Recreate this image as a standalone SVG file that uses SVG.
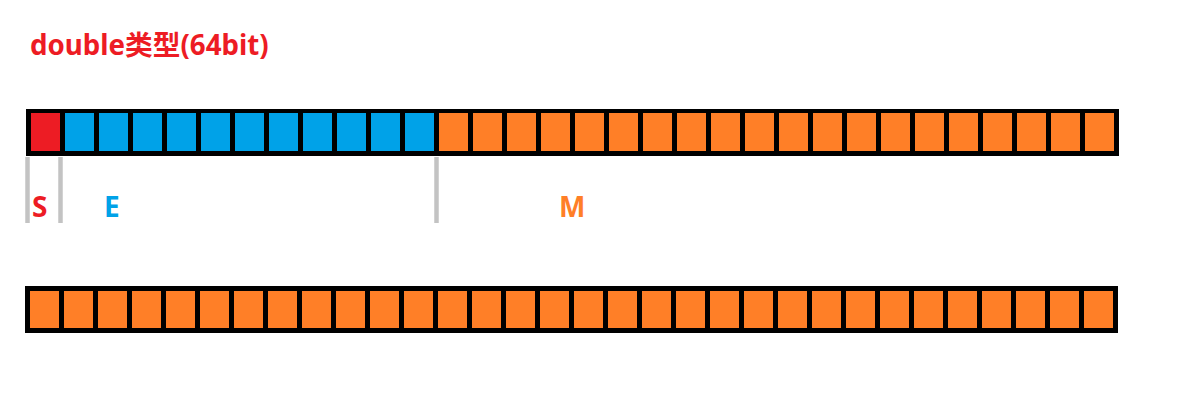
<svg xmlns="http://www.w3.org/2000/svg" xmlns:xlink="http://www.w3.org/1999/xlink" width="1185" height="402" viewBox="0 0 1185 402">
<style>
.bar{fill:#000}
.s{fill:#ED1C24}
.e{fill:#00A2E8}
.m{fill:#FF7F27}
.div{stroke:#C3C3C3;stroke-width:4.5;fill:none}
.lbl{font-family:"Noto Sans","Noto Sans CJK SC",sans-serif;font-weight:bold}
</style>
<defs>
<rect id="ct" width="29" height="38"/>
<rect id="cb" width="29" height="37"/>
</defs>
<rect width="1185" height="402" fill="#fff"/>
<g id="title"><text class="lbl" x="30" y="55" font-size="27.7" fill="#ED1C24">double类型(64bit)</text></g>
<g id="row-top">
<rect class="bar" x="26" y="109" width="1093" height="47"/>
<use href="#ct" x="31" y="113" class="s"/>
<use href="#ct" x="65" y="113" class="e"/><use href="#ct" x="99" y="113" class="e"/><use href="#ct" x="133" y="113" class="e"/><use href="#ct" x="167" y="113" class="e"/><use href="#ct" x="201" y="113" class="e"/><use href="#ct" x="235" y="113" class="e"/><use href="#ct" x="269" y="113" class="e"/><use href="#ct" x="303" y="113" class="e"/><use href="#ct" x="337" y="113" class="e"/><use href="#ct" x="371" y="113" class="e"/><use href="#ct" x="405" y="113" class="e"/>
<use href="#ct" x="439" y="113" class="m"/><use href="#ct" x="473" y="113" class="m"/><use href="#ct" x="507" y="113" class="m"/><use href="#ct" x="541" y="113" class="m"/><use href="#ct" x="575" y="113" class="m"/><use href="#ct" x="609" y="113" class="m"/><use href="#ct" x="643" y="113" class="m"/><use href="#ct" x="677" y="113" class="m"/><use href="#ct" x="711" y="113" class="m"/><use href="#ct" x="745" y="113" class="m"/><use href="#ct" x="779" y="113" class="m"/><use href="#ct" x="813" y="113" class="m"/><use href="#ct" x="847" y="113" class="m"/><use href="#ct" x="881" y="113" class="m"/><use href="#ct" x="915" y="113" class="m"/><use href="#ct" x="949" y="113" class="m"/><use href="#ct" x="983" y="113" class="m"/><use href="#ct" x="1017" y="113" class="m"/><use href="#ct" x="1051" y="113" class="m"/><use href="#ct" x="1085" y="113" class="m"/>
</g>
<g id="connectors">
<line class="div" x1="27.5" y1="157" x2="27.5" y2="223"/>
<line class="div" x1="60.5" y1="157" x2="60.5" y2="223"/>
<line class="div" x1="436.5" y1="157" x2="436.5" y2="223"/>
</g>
<g id="label-s"><text class="lbl" x="32" y="217" font-size="28" fill="#ED1C24">S</text></g>
<g id="label-e"><text class="lbl" x="104" y="217" font-size="28" fill="#00A2E8">E</text></g>
<g id="label-m"><text class="lbl" x="559" y="217" font-size="28" fill="#FF7F27">M</text></g>
<g id="row-bottom">
<rect class="bar" x="25" y="286" width="1093" height="47"/>
<use href="#cb" x="30" y="291" class="m"/><use href="#cb" x="64" y="291" class="m"/><use href="#cb" x="98" y="291" class="m"/><use href="#cb" x="132" y="291" class="m"/><use href="#cb" x="166" y="291" class="m"/><use href="#cb" x="200" y="291" class="m"/><use href="#cb" x="234" y="291" class="m"/><use href="#cb" x="268" y="291" class="m"/><use href="#cb" x="302" y="291" class="m"/><use href="#cb" x="336" y="291" class="m"/><use href="#cb" x="370" y="291" class="m"/><use href="#cb" x="404" y="291" class="m"/><use href="#cb" x="438" y="291" class="m"/><use href="#cb" x="472" y="291" class="m"/><use href="#cb" x="506" y="291" class="m"/><use href="#cb" x="540" y="291" class="m"/><use href="#cb" x="574" y="291" class="m"/><use href="#cb" x="608" y="291" class="m"/><use href="#cb" x="642" y="291" class="m"/><use href="#cb" x="676" y="291" class="m"/><use href="#cb" x="710" y="291" class="m"/><use href="#cb" x="744" y="291" class="m"/><use href="#cb" x="778" y="291" class="m"/><use href="#cb" x="812" y="291" class="m"/><use href="#cb" x="846" y="291" class="m"/><use href="#cb" x="880" y="291" class="m"/><use href="#cb" x="914" y="291" class="m"/><use href="#cb" x="948" y="291" class="m"/><use href="#cb" x="982" y="291" class="m"/><use href="#cb" x="1016" y="291" class="m"/><use href="#cb" x="1050" y="291" class="m"/><use href="#cb" x="1084" y="291" class="m"/>
</g>
</svg>
